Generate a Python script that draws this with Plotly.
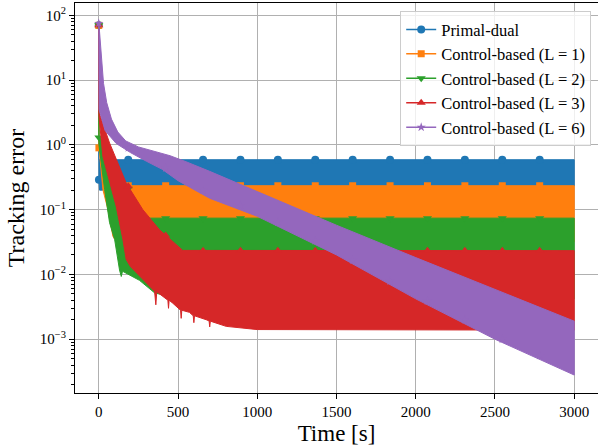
import plotly.graph_objects as go

# ---- tracking-error envelopes (time [s], error) --------------------------
# Each trace oscillates fast, so it is drawn as the band between its upper
# and lower envelope, plus the sparse markers along it.

# Primal-dual
pd_up_t = [0, 1, 3000]
pd_up_v = [70, 0.59, 0.59]
pd_lo_t = [0, 1, 5, 25, 35, 3000]
pd_lo_v = [70, 0.29, 0.2, 0.2, 0.234, 0.234]

# Control-based (L = 1)
c1_up_t = [0, 1, 60, 120, 160, 3000]
c1_up_v = [70, 0.9, 0.5, 0.3, 0.234, 0.234]
c1_lo_t = [0, 1, 5, 26, 58, 89, 100, 150, 3000]
c1_lo_v = [70, 0.9, 0.74, 0.204, 0.1, 0.039, 0.035, 0.032, 0.032]

# Control-based (L = 2)
c2_up_t = [0, 1, 68, 173, 278, 300, 3000]
c2_up_v = [70, 1.35, 0.89, 0.224, 0.083, 0.074, 0.074]
c2_lo_t = [0, 1, 37, 68, 100, 131, 142, 150, 257, 352, 402, 500, 3000]
c2_lo_v = [70, 1.0, 0.204, 0.063, 0.0347, 0.0117, 0.0093, 0.0112, 0.0081,
           0.0052, 0.0048, 0.0042, 0.0042]

# Control-based (L = 3)
c3_up_t = [0, 1, 68, 173, 278, 383, 530, 3000]
c3_up_v = [70, 3.2, 1.07, 0.257, 0.1, 0.049, 0.0235, 0.0233]
c3_lo_t = [0, 1, 26, 110, 152, 173, 200, 257, 352, 360, 366, 436, 440, 444,
           467, 516, 520, 524, 572, 596, 600, 604, 678, 696, 700, 704, 804,
           1000, 3000]
c3_lo_v = [70, 2.8, 0.66, 0.112, 0.035, 0.017, 0.0132, 0.0093, 0.0055,
           0.0034, 0.0054, 0.0040, 0.0030, 0.0040, 0.0036, 0.0028, 0.0021,
           0.0028, 0.0026, 0.0023, 0.0018, 0.0023, 0.002, 0.00192, 0.00155,
           0.0019, 0.00158, 0.00141, 0.00138]

# Control-based (L = 6)
c6_up_t = [0, 10, 20, 30, 50, 80, 120, 170, 250, 350, 450, 550, 700, 1000,
           1500, 2000, 2500, 3000]
c6_up_v = [79, 40, 15.8, 8.9, 4.5, 2.5, 1.58, 1.15, 0.93, 0.79, 0.68, 0.55,
           0.39, 0.19, 0.0575, 0.0182, 0.0059, 0.0019]
c6_lo_t = [0, 2, 40, 110, 200, 300, 400, 500, 700, 1000, 1500, 2000, 2500,
           3000]
c6_lo_v = [71, 3.5, 1.66, 1.05, 0.76, 0.56, 0.42, 0.28, 0.15, 0.079, 0.02,
           0.0042, 0.001, 0.00028]

# ---- markers --------------------------------------------------------------
mk_t = [0, 186, 422, 658, 894, 1130, 1366, 1602, 1838, 2074, 2310, 2546, 2782]
pd_mk_v = [70, 0.59, 0.59, 0.59, 0.59, 0.59, 0.59, 0.59, 0.59, 0.59, 0.59, 0.59, 0.59]
c1_mk_v = [70, 0.234, 0.234, 0.234, 0.234, 0.234, 0.234, 0.234, 0.234, 0.234, 0.234, 0.234, 0.234]
c2_mk_v = [70, 0.21, 0.074, 0.074, 0.074, 0.074, 0.074, 0.074, 0.074, 0.074, 0.074, 0.074, 0.074]
c3_mk_v = [70, 0.23, 0.04, 0.0233, 0.0233, 0.0233, 0.0233, 0.0233, 0.0233, 0.0233, 0.0233, 0.0233, 0.0233]
c6_mk_v = [75, 0.9, 0.44, 0.2, 0.115, 0.064, 0.033, 0.0167, 0.0079, 0.0039, 0.002, 0.001, 0.00056]

# second sample right after the start
start_t = [1]
pd_start_v = [0.29]
c1_start_v = [0.9]
c2_start_v = [1.3]

names = ["Primal-dual", "Control-based (L = 1)", "Control-based (L = 2)",
         "Control-based (L = 3)", "Control-based (L = 6)"]
colors = ["#1f77b4", "#ff7f0e", "#2ca02c", "#d62728", "#9467bd"]
symbols = ["circle", "square", "triangle-down", "triangle-up", "star"]
msizes = [8, 7, 8, 8, 7]

y_tickvals = [1e-3, 1e-2, 1e-1, 1, 10, 100]
y_ticktext = ["10<sup>−3</sup>", "10<sup>−2</sup>", "10<sup>−1</sup>",
              "10<sup>0</sup>", "10<sup>1</sup>", "10<sup>2</sup>"]
x_tickvals = [0, 500, 1000, 1500, 2000, 2500, 3000]

series = [
    (pd_up_t, pd_up_v, pd_lo_t, pd_lo_v, pd_mk_v, pd_start_v),
    (c1_up_t, c1_up_v, c1_lo_t, c1_lo_v, c1_mk_v, c1_start_v),
    (c2_up_t, c2_up_v, c2_lo_t, c2_lo_v, c2_mk_v, c2_start_v),
    (c3_up_t, c3_up_v, c3_lo_t, c3_lo_v, c3_mk_v, None),
    (c6_up_t, c6_up_v, c6_lo_t, c6_lo_v, c6_mk_v, None),
]

SERIF = "Liberation Serif"
fig = go.Figure()

for i, (ut, uv, lt, lv, mv, sv) in enumerate(series):
    c = colors[i]
    grp = f"g{i}"
    # oscillation band
    fig.add_trace(go.Scatter(
        x=ut + lt[::-1], y=uv + lv[::-1], mode="lines", fill="toself",
        fillcolor=c, line=dict(color=c, width=1), showlegend=False,
        legendgroup=grp, hoverinfo="skip"))
    mx = list(mk_t)
    my = list(mv)
    if sv is not None:
        mx += start_t
        my += sv
    fig.add_trace(go.Scatter(
        x=mx, y=my, mode="markers",
        marker=dict(symbol=symbols[i], size=msizes[i], color=c,
                    line=dict(width=0)),
        showlegend=False, legendgroup=grp))
    # legend entry
    fig.add_trace(go.Scatter(
        x=[None], y=[None], mode="lines+markers", name=names[i],
        line=dict(color=c, width=1.5),
        marker=dict(symbol=symbols[i], size=msizes[i], color=c),
        legendgroup=grp))

fig.update_layout(
    width=598, height=446,
    margin=dict(l=75, r=0, t=3, b=53),
    paper_bgcolor="white", plot_bgcolor="white",
    font=dict(family=SERIF, color="black", size=15),
    legend=dict(
        x=0.987, y=0.979, xanchor="right", yanchor="top",
        bgcolor="rgba(255,255,255,0.8)", bordercolor="#cccccc", borderwidth=1,
        font=dict(family=SERIF, size=16.5, color="black"),
        tracegroupgap=0, traceorder="grouped"),
    xaxis=dict(
        range=[-150, 3150], tickvals=x_tickvals,
        ticks="outside", ticklen=5, tickcolor="black",
        showline=True, linecolor="black", linewidth=1, mirror=True,
        showgrid=True, gridcolor="#b0b0b0", gridwidth=1, zeroline=False,
        tickfont=dict(family=SERIF, size=15),
        title=dict(text="Time [s]", font=dict(family=SERIF, size=23), standoff=6)),
    yaxis=dict(
        type="log", range=[-3.83, 2.19],
        tickvals=y_tickvals, ticktext=y_ticktext,
        ticks="outside", ticklen=5, tickcolor="black",
        minor=dict(ticks="outside", ticklen=3, tickcolor="black", dtick="D1",
                   showgrid=False),
        showline=True, linecolor="black", linewidth=1, mirror=True,
        showgrid=True, gridcolor="#b0b0b0", gridwidth=1, zeroline=False,
        tickfont=dict(family=SERIF, size=15),
        title=dict(text="Tracking error", font=dict(family=SERIF, size=24), standoff=8)),
)

fig.write_html("out.html")
